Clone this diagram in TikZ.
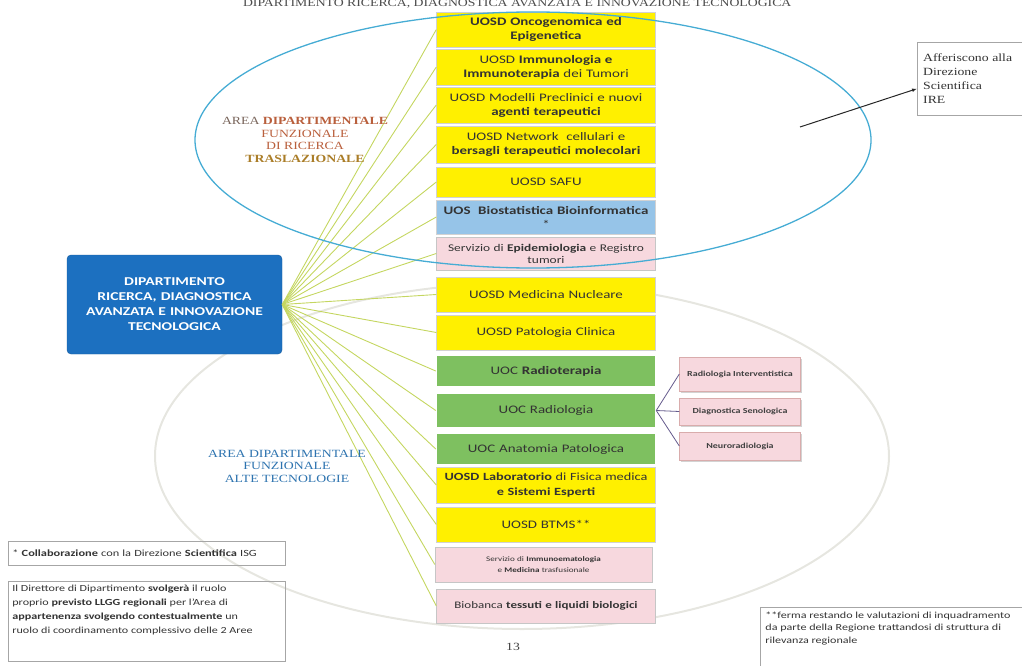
\documentclass[tikz,border=0pt]{standalone}
\usepackage{fontspec}
\setmainfont[FakeStretch=1.3]{Carlito}
\newfontfamily\serifft[FakeStretch=1.25]{Liberation Serif}
\usetikzlibrary{arrows.meta, positioning, calc, shadows}

\definecolor{unityellow}{RGB}{255,240,0}
\definecolor{unitblue}{RGB}{150,196,232}
\definecolor{unitpink}{RGB}{247,216,222}
\definecolor{unitgreen}{RGB}{126,192,96}
\definecolor{dipblue}{RGB}{28,112,192}
\definecolor{fanline}{RGB}{196,214,96}
\definecolor{ringblue}{RGB}{70,172,212}
\definecolor{ringgray}{RGB}{230,230,224}
\definecolor{areagray}{RGB}{120,100,90}
\definecolor{areared}{RGB}{185,95,60}
\definecolor{areaolive}{RGB}{170,125,40}
\definecolor{areablue}{RGB}{45,115,175}
\definecolor{subline}{RGB}{100,90,140}

\begin{document}
\begin{tikzpicture}[
    x=1pt, y=-1pt,
    unit/.style={draw=gray!35, minimum width=219, text width=215, align=center, inner sep=1pt,
                 text=black!80, font=\fontsize{11.5}{14}\selectfont},
    ybox/.style={unit, fill=unityellow},
    bbox/.style={unit, fill=unitblue},
    pbox/.style={unit, fill=unitpink, draw=gray!45},
    gbox/.style={unit, fill=unitgreen, draw=white, line width=1.5pt},
    subbox/.style={draw=pink!70!gray, fill=unitpink, minimum width=121, align=center, inner sep=1pt,
                   font=\fontsize{7.7}{10}\selectfont\bfseries, text=black!75,
                   drop shadow={shadow xshift=1.5pt, shadow yshift=-1.5pt, opacity=0.35}},
    note/.style={draw=gray!70, thick, anchor=north west, align=left, inner sep=4pt,
                 text=black!80, font=\fontsize{9.5}{14}\selectfont},
    arealbl/.style={align=center, font=\serifft\fontsize{11}{12.5}\selectfont},
    fan/.style={fanline, line width=0.9pt},
    sub/.style={subline, line width=0.8pt}
]
    \useasboundingbox (0,0) rectangle (1022,666);

    % Title line (cut at the top edge)
    \node[anchor=base east, font=\serifft\fontsize{11}{12}\selectfont, text=black!70] (title) at (795,7)
        {DIPARTIMENTO RICERCA, DIAGNOSTICA AVANZATA E INNOVAZIONE TECNOLOGICA};

    % Lower area ring (behind the column)
    \draw[ringgray, line width=2pt] (522,456) ellipse [x radius=367, y radius=173];

    % Department
    \node[draw=dipblue!80!black, fill=dipblue, rounded corners=4pt, minimum width=215, minimum height=99,
          text width=205, align=center, text=white, font=\fontsize{12}{15}\selectfont\bfseries] (dip) at (174.5,304.5)
        {DIPARTIMENTO\\ RICERCA, DIAGNOSTICA\\ AVANZATA E INNOVAZIONE\\ TECNOLOGICA};

    % Units (column)
    \node[ybox, minimum height=35] (u1)  at (546,29.5)  {\textbf{UOSD Oncogenomica ed}\\ \textbf{Epigenetica}};
    \node[ybox, minimum height=36] (u2)  at (546,67)    {UOSD \textbf{Immunologia e}\\ \textbf{Immunoterapia} dei Tumori};
    \node[ybox, minimum height=36] (u3)  at (546,105)   {UOSD Modelli Preclinici e nuovi\\ \textbf{agenti terapeutici}};
    \node[ybox, minimum height=37] (u4)  at (546,144.5) {UOSD Network\ \ cellulari e\\ \textbf{bersagli terapeutici molecolari}};
    \node[ybox, minimum height=30] (u5)  at (546,182)   {UOSD SAFU};
    \node[bbox, minimum height=34] (u6)  at (546,217)   {\textbf{UOS\ \ Biostatistica Bioinformatica}\\ {*}};
    \node[pbox, minimum height=33, font=\fontsize{10.3}{12}\selectfont] (u7) at (546,253.5)
        {Servizio di \textbf{Epidemiologia} e Registro\\ tumori};
    \node[ybox, minimum height=35] (u8)  at (546,294.5) {UOSD Medicina Nucleare};
    \node[ybox, minimum height=35] (u9)  at (546,332.5) {UOSD Patologia Clinica};
    \node[gbox, minimum height=32] (u10) at (546,371)   {UOC \textbf{Radioterapia}};
    \node[gbox, minimum height=35] (u11) at (546,410.5) {UOC Radiologia};
    \node[gbox, minimum height=32] (u12) at (546,449)   {UOC Anatomia Patologica};
    \node[ybox, minimum height=36, font=\fontsize{11}{14}\selectfont] (u13) at (546,485)
        {\textbf{UOSD Laboratorio} di Fisica medica\\ \textbf{e Sistemi Esperti}};
    \node[ybox, minimum height=35] (u14) at (546,524.5) {UOSD BTMS**};
    \node[pbox, minimum height=35, minimum width=213, font=\fontsize{7}{11}\selectfont] (u15) at (543.5,564.5)
        {Servizio di \textbf{Immunoematologia}\\ e \textbf{Medicina} trasfusionale};
    \node[pbox, minimum height=34, font=\fontsize{10}{12}\selectfont] (u16) at (546,606)
        {Biobanca \textbf{tessuti e liquidi biologici}};

    % Structures under Radiologia
    \node[subbox, minimum height=34] (s1) at (740,374)   {Radiologia Interventistica};
    \node[subbox, minimum height=27] (s2) at (740,411.5) {Diagnostica Senologica};
    \node[subbox, minimum height=28] (s3) at (740,446)   {Neuroradiologia};

    % Fan from the department to each unit
    \coordinate (hub) at (dip.east);
    \draw[fan] (hub) -- (u1.west);
    \draw[fan] (hub) -- (u2.west);
    \draw[fan] (hub) -- (u3.west);
    \draw[fan] (hub) -- (u4.west);
    \draw[fan] (hub) -- (u5.west);
    \draw[fan] (hub) -- (u6.west);
    \draw[fan] (hub) -- (u7.west);
    \draw[fan] (hub) -- (u8.west);
    \draw[fan] (hub) -- (u9.west);
    \draw[fan] (hub) -- (u10.west);
    \draw[fan] (hub) -- (u11.west);
    \draw[fan] (hub) -- (u12.west);
    \draw[fan] (hub) -- (u13.west);
    \draw[fan] (hub) -- (u14.west);
    \draw[fan] (hub) -- (u15.west);
    \draw[fan] (hub) -- (u16.west);

    % Radiologia branches
    \draw[sub] (u11.east) -- (s1.west);
    \draw[sub] (u11.east) -- (s2.west);
    \draw[sub] (u11.east) -- (s3.west);

    % Upper area ring
    \draw[ringblue, line width=1.3pt] (533,140) ellipse [x radius=338, y radius=128];

    % Area labels
    \node[arealbl] (trasl) at (305,140)
        {\textcolor{areagray}{AREA} \textcolor{areared}{\textbf{DIPARTIMENTALE}}\\
         \textcolor{areared}{FUNZIONALE}\\
         \textcolor{areared}{DI RICERCA}\\
         \textcolor{areaolive}{\textbf{TRASLAZIONALE}}};
    \node[arealbl, text=areablue] (altec) at (287,466)
        {AREA DIPARTIMENTALE\\ FUNZIONALE\\ ALTE TECNOLOGIE};

    % Direzione Scientifica note and arrow
    \node[draw=gray!70, anchor=north west, minimum height=73, text width=110, align=left, inner sep=6pt,
          font=\serifft\fontsize{11}{14}\selectfont, text=black!80] (aff) at (917,42)
        {Afferiscono alla\\ Direzione\\ Scientifica\\ IRE};
    \coordinate (arrowtail) at (800,127);
    \draw[-{Latex[length=5pt]}, line width=1pt, black!85] (arrowtail) -- ([yshift=-10pt]aff.west);

    % Footnotes
    \node[note, minimum height=24, text width=269] (n1) at (8,541)
        {* \textbf{Collaborazione} con la Direzione \textbf{Scientifica} ISG};
    \node[note, minimum width=277] (n2) at (8,581)
        {\parbox[t][72pt][t]{269pt}{\fontsize{9.3}{14}\selectfont
         Il Direttore di Dipartimento \textbf{svolgerà} il ruolo\\
         proprio \textbf{previsto LLGG regionali} per l'Area di\\
         \textbf{appartenenza svolgendo contestualmente} un\\
         ruolo di coordinamento complessivo delle 2 Aree}};
    \node[note, minimum width=280] (n3) at (760,607)
        {\parbox[t][60pt][t]{270pt}{\fontsize{9.3}{12.5}\selectfont
         **ferma restando le valutazioni di inquadramento\\
         da parte della Regione trattandosi di struttura di\\
         rilevanza regionale}};

    % Page number
    \node[font=\serifft\fontsize{11}{12}\selectfont, text=black!75] (page) at (513,647) {13};
\end{tikzpicture}
\end{document}
